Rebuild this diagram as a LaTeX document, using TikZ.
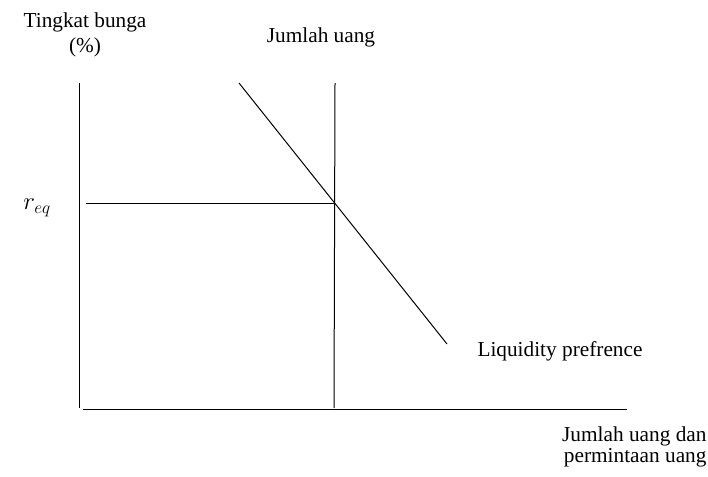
\documentclass[tikz,border=0pt]{standalone}
\usepackage{fontspec}
\setmainfont{Liberation Serif}
\begin{document}
\begin{tikzpicture}[x=1pt,y=-1pt, line join=round, line width=1pt,
  font=\fontsize{21.3}{25}\selectfont,
  lbl/.style={inner sep=0pt, align=center}]
  \useasboundingbox (0,0) rectangle (708,476);
  % Achsen
  \coordinate (ytop) at (79,83);
  \coordinate (ybot) at (79,408);
  \coordinate (xleft) at (83,409);
  \coordinate (xright) at (627,409);
  % Jumlah uang
  \coordinate (mtop) at (335,83);
  \coordinate (mbot) at (334,408);
  % Liquidity preference
  \coordinate (lptop) at (239,83);
  \coordinate (lpbot) at (447,344);
  \coordinate (req) at (86,203);
  \coordinate (eq) at (335,203);
  \draw (ytop)--(ybot);
  \draw (xleft)--(xright);
  \draw (mtop)--(mbot);
  \draw (lptop)--(lpbot);
  \draw (req)--(eq);
  \node[lbl] (ylabel) at (85,35) {Tingkat bunga\\(\%)};
  \node[lbl] (mlabel) at (321,37) {Jumlah uang};
  \node[lbl] (rlabel) at (37,208) {\fontsize{27}{30}\selectfont$r_{eq}$};
  \node[lbl] (lplabel) at (560,351) {Liquidity prefrence};
  \node[lbl, align=right, anchor=east, font=\fontsize{21.3}{21}\selectfont] (xlabel) at (707,447) {Jumlah uang dan\\permintaan uang};
\end{tikzpicture}
\end{document}
